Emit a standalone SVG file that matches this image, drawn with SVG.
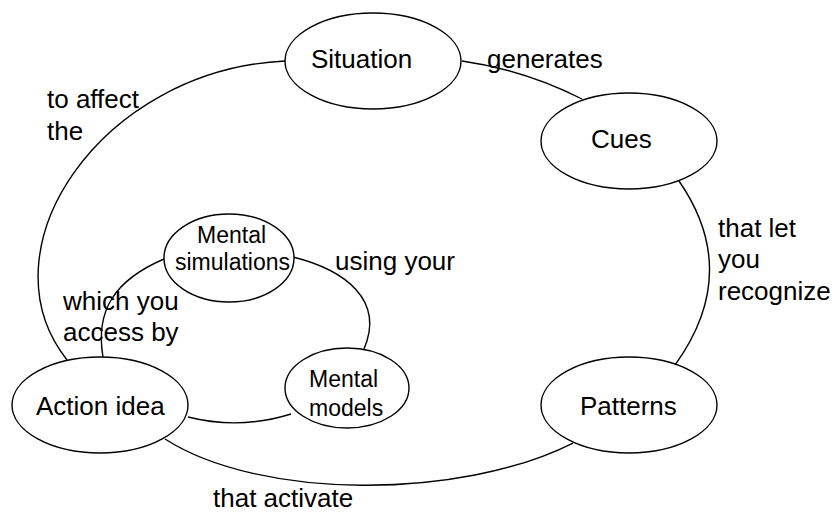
<svg xmlns="http://www.w3.org/2000/svg" width="837" height="512" viewBox="0 0 837 512">
<style>
.node ellipse{fill:#fff;stroke:#000;stroke-width:1.4}
.edges path{fill:none;stroke:#000;stroke-width:1.4}
text{font-family:"Liberation Sans",Arial,sans-serif;fill:#000}
.big{font-size:26px}
.small{font-size:23px}
.lbl{font-size:26px}
</style>
<rect width="837" height="512" fill="#fff"/>
<g id="edges" class="edges">
<path d="M285,61 C100,70 -20,250 67,360"/>
<path d="M462,61 Q525,70 582,99"/>
<path d="M679,181 Q742,272 675,365"/>
<path d="M573,443 C460,500 260,500 165,439"/>
<path d="M188,417 Q240,430 291,414"/>
<path d="M103,357 C95,310 115,280 164,259"/>
<path d="M293,257 C345,270 385,300 364,349"/>
</g>
<g id="situation" class="node"><ellipse cx="373" cy="61" rx="88" ry="48"/><text class="big" x="311" y="68">Situation</text></g>
<g id="cues" class="node"><ellipse cx="629" cy="141" rx="88" ry="48"/><text class="big" x="591" y="148">Cues</text></g>
<g id="patterns" class="node"><ellipse cx="629" cy="405" rx="88" ry="48"/><text class="big" x="580" y="415">Patterns</text></g>
<g id="action-idea" class="node"><ellipse cx="100" cy="405" rx="88" ry="48"/><text class="big" x="36" y="415">Action idea</text></g>
<g id="mental-simulations" class="node"><ellipse cx="229" cy="258" rx="65" ry="44"/><text class="small" x="197" y="243">Mental</text><text class="small" x="175" y="270">simulations</text></g>
<g id="mental-models" class="node"><ellipse cx="347" cy="388" rx="62" ry="40"/><text class="small" x="309" y="387">Mental</text><text class="small" x="309" y="416">models</text></g>
<g id="labels">
<text class="lbl" x="487" y="68">generates</text>
<text class="lbl" x="47" y="108">to affect</text>
<text class="lbl" x="47" y="140">the</text>
<text class="lbl" x="718" y="237">that let</text>
<text class="lbl" x="718" y="268">you</text>
<text class="lbl" x="718" y="300">recognize</text>
<text class="lbl" x="335" y="270">using your</text>
<text class="lbl" x="63" y="310">which you</text>
<text class="lbl" x="63" y="341">access by</text>
<text class="lbl" x="213" y="507">that activate</text>
</g>
</svg>
